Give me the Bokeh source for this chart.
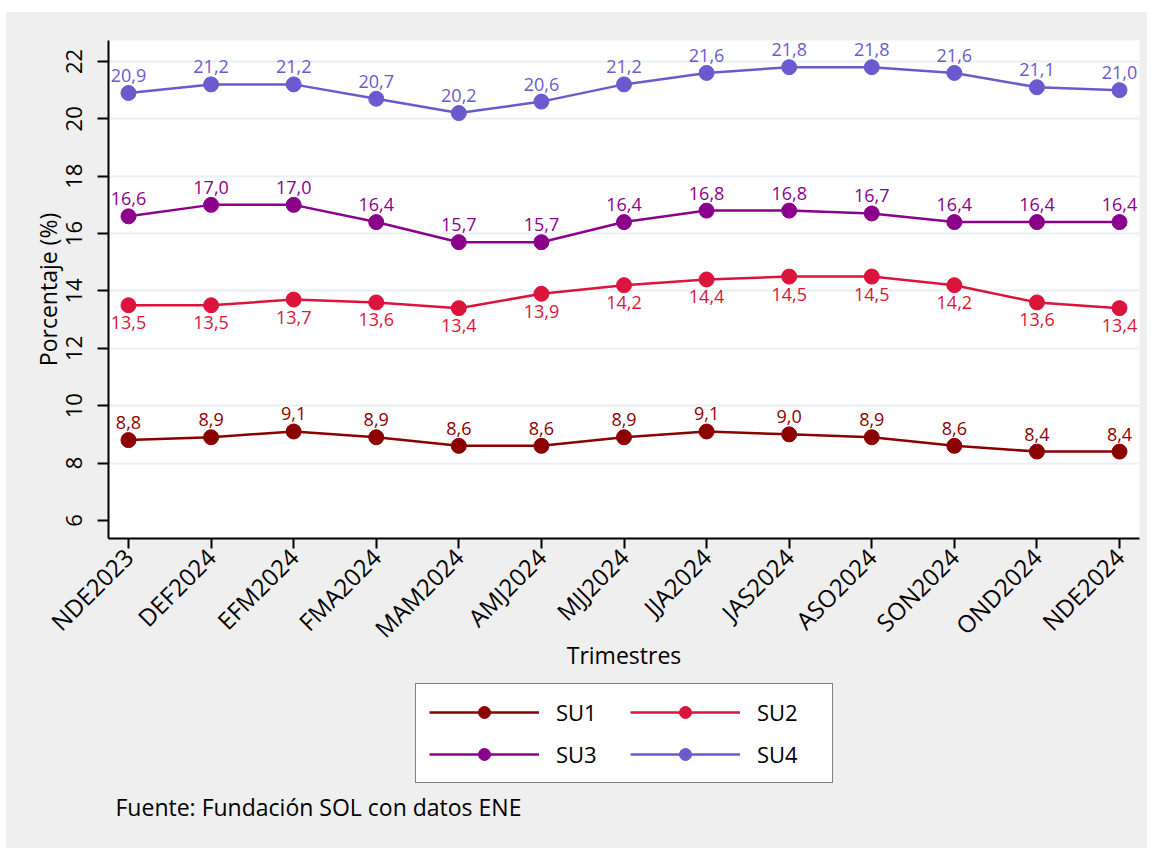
import math
from bokeh.plotting import figure
from bokeh.models import (Range1d, FixedTicker, Legend, LegendItem, Label, ColumnDataSource, Spacer)
from bokeh.layouts import column, row
from bokeh.core.properties import value
from bokeh.embed import file_html
from bokeh.resources import INLINE

trimestres = ["NDE2023", "DEF2024", "EFM2024", "FMA2024", "MAM2024", "AMJ2024",
              "MJJ2024", "JJA2024", "JAS2024", "ASO2024", "SON2024", "OND2024", "NDE2024"]
su1 = [8.8, 8.9, 9.1, 8.9, 8.6, 8.6, 8.9, 9.1, 9.0, 8.9, 8.6, 8.4, 8.4]
su2 = [13.5, 13.5, 13.7, 13.6, 13.4, 13.9, 14.2, 14.4, 14.5, 14.5, 14.2, 13.6, 13.4]
su3 = [16.6, 17.0, 17.0, 16.4, 15.7, 15.7, 16.4, 16.8, 16.8, 16.7, 16.4, 16.4, 16.4]
su4 = [20.9, 21.2, 21.2, 20.7, 20.2, 20.6, 21.2, 21.6, 21.8, 21.8, 21.6, 21.1, 21.0]
y_ticks = [6, 8, 10, 12, 14, 16, 18, 20, 22]

series = [
    ("SU1", su1, "#8b0000", "above"),
    ("SU2", su2, "#dc143c", "below"),
    ("SU3", su3, "#8b008b", "above"),
    ("SU4", su4, "#6a5acd", "above"),
]

FONT = "Open Sans"
BG = "#efefef"
W = 1141
BL, BR = 102, 8          # left / right borders (frames are aligned in the column)
FW = W - BL - BR         # frame width in px

p = figure(width=W, height=668, output_backend="svg", toolbar_location=None,
           x_range=Range1d(-0.242, 12.242), y_range=Range1d(5.37, 22.73),
           min_border_left=BL, min_border_right=BR, min_border_top=28, min_border_bottom=142)
p.background_fill_color = "white"
p.border_fill_color = BG
p.outline_line_color = None

xs = list(range(len(trimestres)))
p.xaxis.ticker = FixedTicker(ticks=xs)
p.xaxis.major_label_overrides = {i: t for i, t in enumerate(trimestres)}
p.xaxis.major_label_orientation = math.pi / 4
p.yaxis.ticker = FixedTicker(ticks=y_ticks)
p.yaxis.major_label_orientation = "vertical"
for ax in (p.xaxis, p.yaxis):
    ax.axis_line_color = "black"
    ax.axis_line_width = 2
    ax.major_tick_line_color = "black"
    ax.major_tick_line_width = 2
    ax.major_tick_in = 0
    ax.minor_tick_line_color = None
    ax.major_label_text_font = FONT
    ax.major_label_text_color = "black"
    ax.axis_label_text_font = FONT
    ax.axis_label_text_font_style = "normal"
    ax.axis_label_text_color = "black"
    ax.axis_label_text_font_size = "23px"
p.xaxis.major_tick_out = 10
p.yaxis.major_tick_out = 11
p.xaxis.major_label_text_font_size = "24px"
p.yaxis.major_label_text_font_size = "22px"
p.xaxis.major_label_standoff = 4
p.yaxis.major_label_standoff = 15
p.xaxis.axis_label = "Trimestres"
p.yaxis.axis_label = "Porcentaje (%)"
p.xaxis.axis_label_standoff = -20
p.yaxis.axis_label_standoff = 0

p.xgrid.grid_line_color = None
p.ygrid.ticker = FixedTicker(ticks=[8, 10, 12, 14, 16, 18, 20, 22])
p.ygrid.grid_line_color = "#e8f0f2"
p.ygrid.grid_line_width = 2

# footer figure: legend + source note
FH = 168
f = figure(width=W, height=FH, output_backend="svg", toolbar_location=None,
           x_range=Range1d(0, FW), y_range=Range1d(0, FH),
           min_border_left=BL, min_border_right=BR, min_border_top=0, min_border_bottom=0,
           x_axis_type=None, y_axis_type=None)
f.background_fill_color = BG
f.border_fill_color = BG
f.outline_line_color = None
f.xgrid.visible = False
f.ygrid.visible = False

items = {}
for name, vals, color, pos in series:
    src = ColumnDataSource(dict(x=xs, y=vals, lab=[f"{v:.1f}".replace(".", ",") for v in vals]))
    p.line("x", "y", source=src, line_color=color, line_width=2.5)
    p.scatter("x", "y", source=src, size=15, fill_color=color, line_color=color)
    if pos == "above":
        p.text("x", "y", text="lab", source=src, text_color=color, text_font=value(FONT),
               text_font_size="18px", text_align="center", text_baseline="bottom", y_offset=-11)
    else:
        p.text("x", "y", text="lab", source=src, text_color=color, text_font=value(FONT),
               text_font_size="18px", text_align="center", text_baseline="top", y_offset=11)
    # off-screen stand-ins that only carry the legend swatches
    dummy = ColumnDataSource(dict(x=[-1000, -999], y=[-1000, -1000]))
    ln = f.line("x", "y", source=dummy, line_color=color, line_width=2.5)
    sc = f.scatter("x", "y", source=dummy, size=15, fill_color=color, line_color=color)
    items[name] = LegendItem(label=name, renderers=[ln, sc])

legend = Legend(items=[items["SU1"], items["SU3"], items["SU2"], items["SU4"]],
                ncols=2, location=(307, 65),
                border_line_color="black", border_line_width=1.5,
                background_fill_color="white", background_fill_alpha=1,
                label_text_font=FONT, label_text_font_size="22px", label_text_color="black",
                glyph_width=110, glyph_height=30, label_standoff=17, label_width=62,
                spacing=12, padding=13, margin=0)
f.add_layout(legend, "center")

f.add_layout(Label(x=7, y=42, text="Fuente: Fundación SOL con datos ENE", text_font=FONT,
                   text_font_size="23px", text_color="black", text_baseline="middle",
                   text_align="left"))

inner = column(p, f, spacing=0, styles={"background-color": BG})
layout = column(Spacer(height=12), row(Spacer(width=6), inner, spacing=0), spacing=0)

open("out.html", "w").write(file_html(layout, INLINE))
